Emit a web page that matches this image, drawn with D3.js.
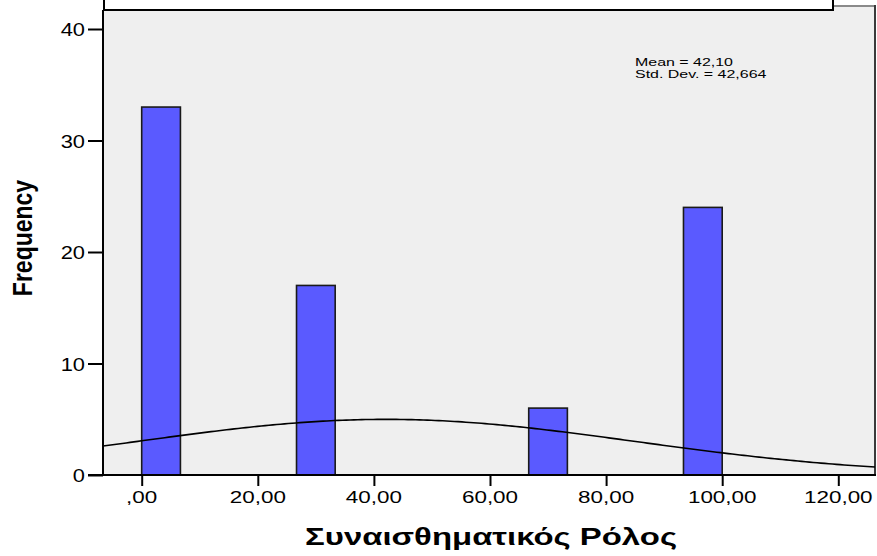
<!DOCTYPE html>
<html>
<head>
<meta charset="utf-8">
<script src="https://cdn.jsdelivr.net/npm/d3@7"></script>
<style>
  html, body { margin: 0; padding: 0; background: #ffffff; }
  svg { display: block; }
  text { font-family: "Liberation Sans", Arial, sans-serif; fill: #000; }
</style>
</head>
<body>
<svg id="chart" width="877" height="556"></svg>
<script>
// Histogram bins (lower / upper edges) and their frequencies
const binLower = [0, 26.67, 66.67, 93.33];
const binUpper = [6.67, 33.33, 73.33, 100];
const frequencies = [33, 17, 6, 24];

// Summary statistics shown in the legend
const meanValue = 42.10;
const stdDev = 42.664;
const statLabels = ["Mean = 42,10", "Std. Dev. = 42,664"];

// Axis ticks
const xTicks = [0, 20, 40, 60, 80, 100, 120];
const xTickLabels = [",00", "20,00", "40,00", "60,00", "80,00", "100,00", "120,00"];
const yTicks = [0, 10, 20, 30, 40];

const xTitle = "Συναισθηματικός Ρόλος";
const yTitle = "Frequency";

const svg = d3.select("#chart");

const plotLeft = 103, plotRight = 875, plotTop = 6, plotBottom = 475;

const x = d3.scaleLinear().domain([0, 120]).range([141.7, 838.3]);
const y = d3.scaleLinear().domain([0, 40]).range([475, 29]);

// Plot background
svg.append("rect")
  .attr("x", plotLeft).attr("y", plotTop)
  .attr("width", plotRight - plotLeft).attr("height", plotBottom - plotTop)
  .attr("fill", "#efefef");

// Top and right frame edges
svg.append("line")
  .attr("x1", plotLeft).attr("x2", plotRight)
  .attr("y1", plotTop).attr("y2", plotTop)
  .attr("stroke", "#8a8a8a").attr("stroke-width", 2);
svg.append("line")
  .attr("x1", plotRight).attr("x2", plotRight)
  .attr("y1", plotTop - 1).attr("y2", plotBottom)
  .attr("stroke", "#3a3a3a").attr("stroke-width", 2);

// Bars
const bins = frequencies.map((f, i) => ({ lo: binLower[i], hi: binUpper[i], f }));
svg.append("g").selectAll("rect")
  .data(bins)
  .join("rect")
  .attr("x", d => x(d.lo))
  .attr("y", d => y(d.f))
  .attr("width", d => x(d.hi) - x(d.lo))
  .attr("height", d => y(0) - y(d.f))
  .attr("fill", "#5a5aff")
  .attr("stroke", "#1a1a1a")
  .attr("stroke-width", 1.6);

// Normal curve scaled to counts: N * binWidth * pdf
const n = d3.sum(frequencies);
const binWidth = binUpper[0] - binLower[0];
const pdf = v => Math.exp(-0.5 * Math.pow((v - meanValue) / stdDev, 2)) / (stdDev * Math.sqrt(2 * Math.PI));
const xMin = x.invert(plotLeft), xMax = x.invert(plotRight);
const curvePts = d3.range(0, 201).map(i => {
  const v = xMin + (xMax - xMin) * i / 200;
  return [v, n * binWidth * pdf(v)];
});
svg.append("path")
  .datum(curvePts)
  .attr("fill", "none")
  .attr("stroke", "#000")
  .attr("stroke-width", 1.6)
  .attr("d", d3.line().x(d => x(d[0])).y(d => y(d[1])));

// Axes
const yAxis = svg.append("g")
  .attr("transform", `translate(${plotLeft},0)`)
  .call(d3.axisLeft(y).tickValues(yTicks).tickSize(15).tickFormat(""));
yAxis.select(".domain").remove();
yAxis.selectAll(".tick line").attr("stroke", "#000").attr("stroke-width", 2);

const xAxis = svg.append("g")
  .attr("transform", `translate(0,${plotBottom})`)
  .call(d3.axisBottom(x).tickValues(xTicks).tickSize(11).tickFormat(""));
xAxis.select(".domain").remove();
xAxis.selectAll(".tick line").attr("stroke", "#000").attr("stroke-width", 2);

// Axis lines
svg.append("line")
  .attr("x1", plotLeft).attr("x2", plotLeft)
  .attr("y1", 10).attr("y2", plotBottom + 1)
  .attr("stroke", "#000").attr("stroke-width", 2);
svg.append("line")
  .attr("x1", plotLeft - 15).attr("x2", plotRight + 1)
  .attr("y1", plotBottom).attr("y2", plotBottom)
  .attr("stroke", "#000").attr("stroke-width", 2);

// Text drawn with horizontal stretch
function stretched(px, py, str, size, sx, anchor, weight) {
  return svg.append("text")
    .attr("transform", `translate(${px},${py}) scale(${sx},1)`)
    .attr("text-anchor", anchor)
    .attr("font-size", size)
    .attr("font-weight", weight || "normal")
    .text(str);
}

yTicks.forEach(t => {
  stretched(85, y(t) + 7, String(t), 19, 1.15, "end");
});
xTicks.forEach((t, i) => {
  stretched(x(t), 503, xTickLabels[i], 17, 1.32, "middle");
});

// Axis titles
svg.append("text")
  .attr("transform", `translate(32,238) scale(1.2,1) rotate(-90)`)
  .attr("text-anchor", "middle")
  .attr("font-size", 23)
  .attr("font-weight", "bold")
  .text(yTitle);

svg.append("text")
  .attr("x", 491).attr("y", 545)
  .attr("text-anchor", "middle")
  .attr("font-size", 23)
  .attr("font-weight", "bold")
  .attr("textLength", 372)
  .attr("lengthAdjust", "spacingAndGlyphs")
  .text(xTitle);

// Statistics legend
statLabels.forEach((s, i) => {
  stretched(635, 66 + i * 11.5, s, 10.5, 1.52, "start");
});

// Title box across the top
svg.append("rect")
  .attr("x", 104).attr("y", -5)
  .attr("width", 729).attr("height", 15)
  .attr("fill", "#fff")
  .attr("stroke", "#000").attr("stroke-width", 2);
</script>
</body>
</html>
